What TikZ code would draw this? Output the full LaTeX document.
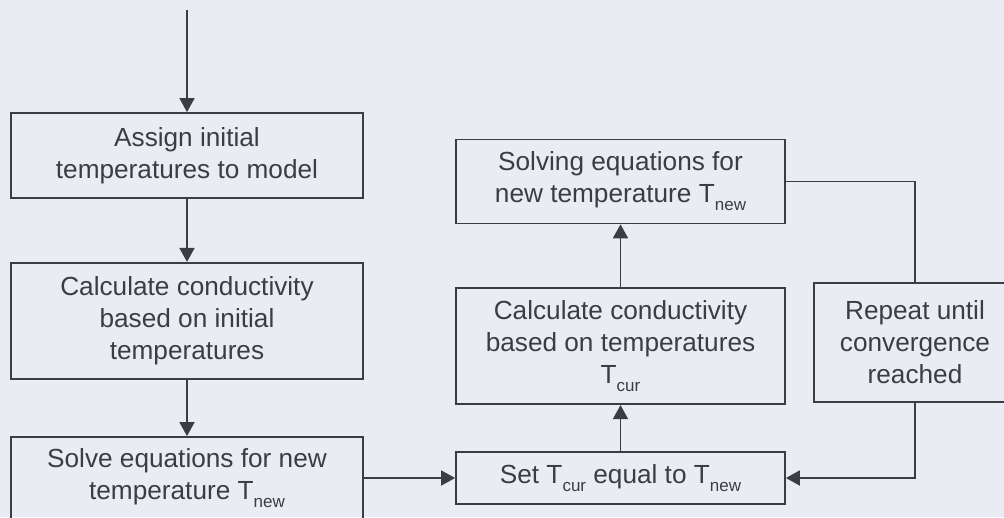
\documentclass[tikz,border=0pt]{standalone}
\usepackage{fontspec}
\setmainfont{Liberation Sans}
\usetikzlibrary{arrows.meta, positioning}
\definecolor{paper}{HTML}{E9ECF2}
\definecolor{ink}{HTML}{3A3D42}
\newcommand{\lowsub}[1]{\raisebox{-8pt}{\fontsize{17}{17}\selectfont #1}}

\begin{document}
\begin{tikzpicture}[x=1pt, y=-1pt,
    box/.style={rectangle, draw=ink, line width=1.8pt, text=ink, align=center,
                inner sep=0pt, font=\fontsize{26.2}{32}\selectfont},
    wide/.style={box, minimum width=352pt},
    narrow/.style={box, minimum width=329pt},
    arrow/.style={-{Triangle[length=14pt, width=15pt]}, draw=ink, line width=1.8pt},
    link/.style={draw=ink, line width=1.8pt}
]
\fill [paper] (0,0) rectangle (1004,517);
\clip (0,0) rectangle (1004,517);

% --- left column ---
\coordinate (start) at (187,10);
\node (assign) [wide, minimum height=85pt] at (187,155.5) {Assign initial\\temperatures to model};
\node (condinit) [wide, minimum height=116pt, below=63pt of assign] {Calculate conductivity\\based on initial\\temperatures};
\node (solve) [wide, minimum height=82pt] at (187,478) {Solve equations for new\\temperature T\lowsub{new}};

% --- iteration loop ---
\node (settcur) [narrow, minimum height=52pt] at (620.5,478) {Set T\lowsub{cur} equal to T\lowsub{new}};
\node (condcur) [narrow, minimum height=116pt, above=46pt of settcur] {Calculate conductivity\\based on temperatures\\T\lowsub{cur}};
\node (solvecur) [narrow, minimum height=84pt, above=63pt of condcur] {Solving equations for\\new temperature T\lowsub{new}};
\node (repeat) [box, minimum width=202pt, minimum height=119pt] at (915,342.5) {Repeat until\\convergence\\reached};

% --- arrows ---
\draw [arrow] (start) -- (assign);
\draw [arrow] (assign) -- (condinit);
\draw [arrow] (condinit) -- (solve);
\draw [arrow] (solve) -- (settcur);
\draw [arrow] (settcur) -- (condcur);
\draw [arrow] (condcur) -- (solvecur);
\draw [link]  (solvecur.east) -| (repeat.north);
\draw [arrow] (repeat.south) |- (settcur.east);
\end{tikzpicture}
\end{document}
